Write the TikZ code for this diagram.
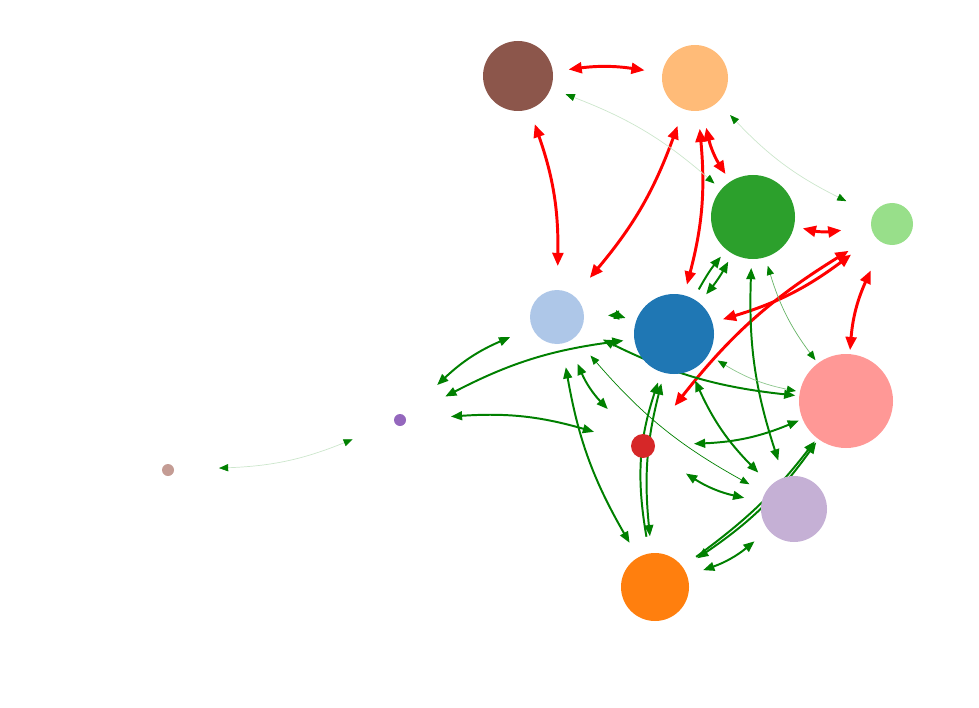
\documentclass[tikz,border=0pt]{standalone}
\usepackage{xcolor}
\usepackage{tikz}
\usetikzlibrary{arrows.meta, backgrounds}
\definecolor{tabblue}{HTML}{1F77B4}
\definecolor{tabsky}{HTML}{AEC7E8}
\definecolor{taborange}{HTML}{FF7F0E}
\definecolor{tabpeach}{HTML}{FFBB78}
\definecolor{tabgreen}{HTML}{2CA02C}
\definecolor{tabmint}{HTML}{98DF8A}
\definecolor{tabred}{HTML}{D62728}
\definecolor{tabrose}{HTML}{FF9896}
\definecolor{tabviolet}{HTML}{9467BD}
\definecolor{tablilac}{HTML}{C5B0D5}
\definecolor{tabbrown}{HTML}{8C564B}
\definecolor{tabtan}{HTML}{C49C94}
\definecolor{edgegreen}{RGB}{0,128,0}
\tikzset{
  vertex/.style={circle, inner sep=0pt, minimum size={#1*0.5mm},
    outer sep={(51-#1)*0.25mm}},
  redlink/.style={<->, >={Triangle[length=3.3mm, width=2.7mm]},
    line width=2.1pt, draw=red},
  greenlink/.style={<->, >={Triangle[length=2.8mm, width=2.2mm]},
    line width=1.4pt, draw=edgegreen},
  thinlink/.style={<->, >={Triangle[length=2.3mm, width=1.8mm, color=edgegreen]},
    line width=0.5pt, draw=#1},
  thinlink/.default=edgegreen,
}

\begin{document}
\begin{tikzpicture}[x=0.25mm, y=-0.25mm]
  \useasboundingbox (0,0) rectangle (979,707);
  % vertices
  \node[vertex=35, fill=tabbrown]  (brown)   at (518,76)  {};
  \node[vertex=33, fill=tabpeach]  (peach)   at (695,78)  {};
  \node[vertex=42, fill=tabgreen]  (green)   at (753,217) {};
  \node[vertex=21, fill=tabmint]   (mint)    at (892,224) {};
  \node[vertex=27, fill=tabsky]    (sky)     at (557,317) {};
  \node[vertex=40, fill=tabblue]   (blue)    at (674,334) {};
  \node[vertex=47, fill=tabrose]   (rose)    at (846,401) {};
  \node[vertex=12, fill=tabred]    (crimson) at (643,446) {};
  \node[vertex=6,  fill=tabviolet] (violet)  at (400,420) {};
  \node[vertex=6,  fill=tabtan]    (tan)     at (168,470) {};
  \node[vertex=33, fill=tablilac]  (lilac)   at (794,509) {};
  \node[vertex=34, fill=taborange] (orange)  at (655,587) {};

  \begin{scope}[on background layer]
    % red links
    \draw[redlink] (brown) to[bend left=8] (peach);
    \draw[redlink] (brown) to[bend left=10] (sky);
    \draw[redlink] (peach) to[bend left=10] (sky);
    \draw[redlink] (peach) to[bend left=10] (blue);
    \draw[redlink] (peach) to[bend right=10] (green);
    \draw[redlink] (green) to[bend right=10] (mint);
    \draw[redlink] (mint) to[bend left=10] (blue);
    \draw[redlink] (mint) to[bend right=10] (crimson);
    \draw[redlink] (mint) to[bend right=10] (rose);
    % green links
    \draw[greenlink, ->] (blue) to[bend left=5] (green);
    \draw[greenlink] (blue) to[bend right=5] (green);
    \draw[greenlink] (green) to[bend right=10] (lilac);
    \draw[greenlink] (sky) to[bend left=10] (blue);
    \draw[greenlink] (violet) to[bend left=10] (blue);
    \draw[greenlink] (violet) to[bend left=10] (sky);
    \draw[greenlink] (violet) to[bend left=10] (crimson);
    \draw[greenlink] (sky) to[bend right=10] (crimson);
    \draw[greenlink] (sky) to[bend right=10] (orange);
    \draw[greenlink] (sky) to[bend right=10] (rose);
    \draw[greenlink] (blue) to[bend right=10] (orange);
    \draw[greenlink, ->] (orange) to[bend left=14] (blue);
    \draw[greenlink] (blue) to[bend right=10] (lilac);
    \draw[greenlink] (crimson) to[bend right=10] (rose);
    \draw[greenlink] (crimson) to[bend right=10] (lilac);
    \draw[greenlink] (orange) to[bend right=10] (rose);
    \draw[greenlink, ->] (orange) to[bend right=8] (rose);
    \draw[greenlink] (orange) to[bend right=10] (lilac);
    % thin links
    \draw[thinlink] (sky) to[bend right=10] (lilac);
    \draw[thinlink=edgegreen!60] (green) to[bend right=10] (rose);
    \draw[thinlink=edgegreen!45] (blue) to[bend right=10] (rose);
    \draw[thinlink=edgegreen!20] (brown) to[bend left=10] (green);
    \draw[thinlink=edgegreen!20] (peach) to[bend right=10] (mint);
    \draw[thinlink=edgegreen!20] (tan) to[bend right=10] (violet);
  \end{scope}
\end{tikzpicture}
\end{document}
